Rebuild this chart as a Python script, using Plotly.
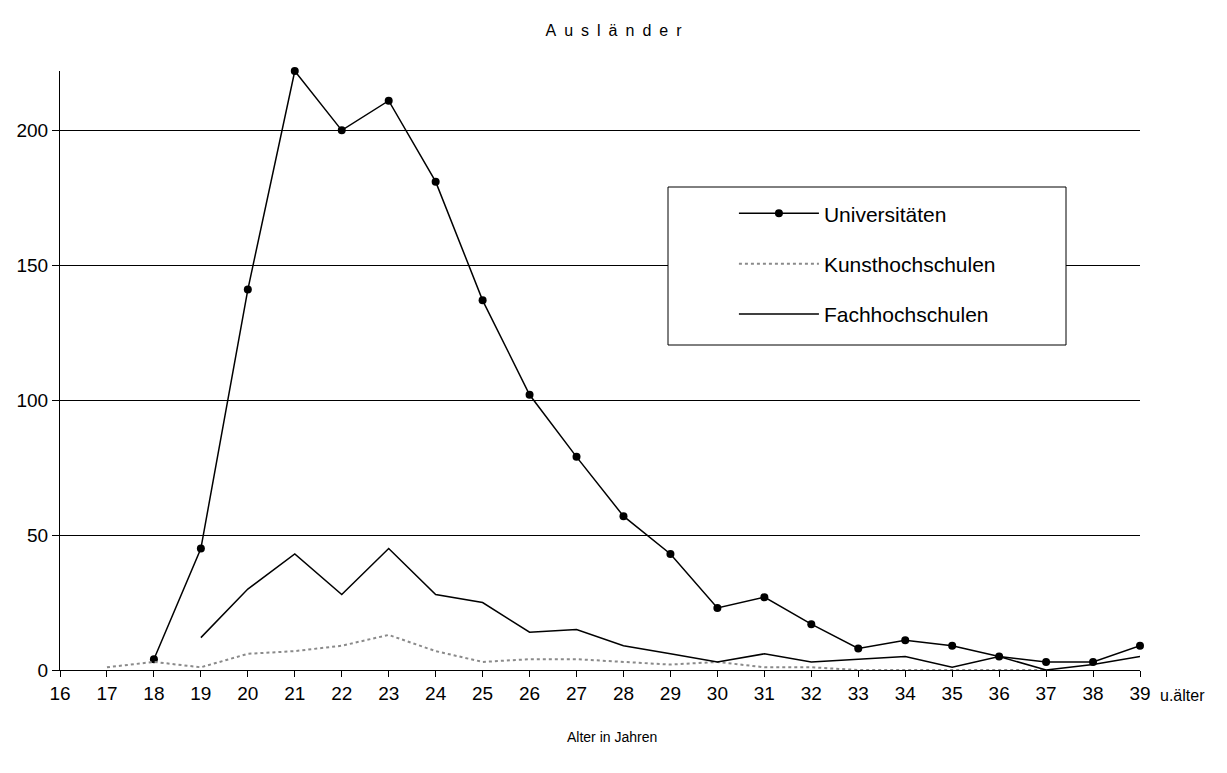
import plotly.graph_objects as go

ages = list(range(16, 40))
tick_labels = [str(a) for a in ages]

uni_ages = list(range(18, 40))
uni_vals = [4, 45, 141, 222, 200, 211, 181, 137, 102, 79, 57, 43, 23, 27, 17, 8, 11, 9, 5, 3, 3, 9]

kunst_ages = list(range(17, 38))
kunst_vals = [1, 3, 1, 6, 7, 9, 13, 7, 3, 4, 4, 3, 2, 3, 1, 1, 0, 0, 0, 0, 0]

fach_ages = list(range(19, 40))
fach_vals = [12, 30, 43, 28, 45, 28, 25, 14, 15, 9, 6, 3, 6, 3, 4, 5, 1, 5, 0, 2, 5]

FONT = "Liberation Sans, Arial, sans-serif"
EN = "\u2002"

fig = go.Figure()
fig.add_trace(go.Scatter(x=uni_ages, y=uni_vals, name="Universitäten", mode="lines+markers",
                         line=dict(color="black", width=1.5), marker=dict(color="black", size=8),
                         legendgroup="a", cliponaxis=False))
fig.add_trace(go.Scatter(x=kunst_ages, y=kunst_vals, name="Kunsthochschulen", mode="lines",
                         line=dict(color="#8a8a8a", width=2, dash="dot"), legendgroup="b"))
fig.add_trace(go.Scatter(x=fach_ages, y=fach_vals, name="Fachhochschulen", mode="lines",
                         line=dict(color="black", width=1.5), legendgroup="c"))

fig.update_layout(
    width=1227, height=773,
    margin=dict(l=60, r=87, t=71, b=103),
    paper_bgcolor="white", plot_bgcolor="white",
    font=dict(family=FONT, color="black", size=19),
    title=dict(text=EN.join("Ausländer"), x=0.5, xanchor="center", y=1 - 30 / 773, yanchor="middle",
               font=dict(size=16, family=FONT)),
    showlegend=True,
    legend=dict(x=0.624, y=0.796, xanchor="left", yanchor="top", bgcolor="rgba(0,0,0,0)",
                font=dict(size=21, family=FONT), tracegroupgap=20, itemwidth=80,
                borderwidth=0),
    xaxis=dict(range=[16, 39], tickmode="array", tickvals=ages, ticktext=tick_labels,
               showgrid=False, zeroline=False, showline=True, linecolor="black", linewidth=1,
               ticks="outside", ticklen=6, tickcolor="black", tickfont=dict(size=19)),
    yaxis=dict(range=[0, 222], tickvals=[0, 50, 100, 150, 200], showgrid=True, gridcolor="black",
               gridwidth=1, zeroline=False, showline=True, linecolor="black", linewidth=1,
               ticks="outside", ticklen=7, tickcolor="black", tickfont=dict(size=19)),
    shapes=[dict(type="rect", xref="paper", yref="paper",
                 x0=(668 - 60) / 1080, x1=(1066 - 60) / 1080,
                 y0=(670 - 345) / 599, y1=(670 - 187) / 599,
                 line=dict(color="black", width=1), fillcolor="white", layer="above")],
    annotations=[
        dict(text="Alter in Jahren", xref="paper", yref="paper", x=(612 - 60) / 1080, y=(670 - 737) / 599,
             xanchor="center", yanchor="middle", showarrow=False, font=dict(size=14)),
        dict(text="u.älter", xref="paper", yref="paper", x=(1182 - 60) / 1080, y=(670 - 695) / 599,
             xanchor="center", yanchor="middle", showarrow=False, font=dict(size=16)),
    ],
)

fig.write_html("out.html", config={"displayModeBar": False},
               post_script="document.body.style.margin='0';")
